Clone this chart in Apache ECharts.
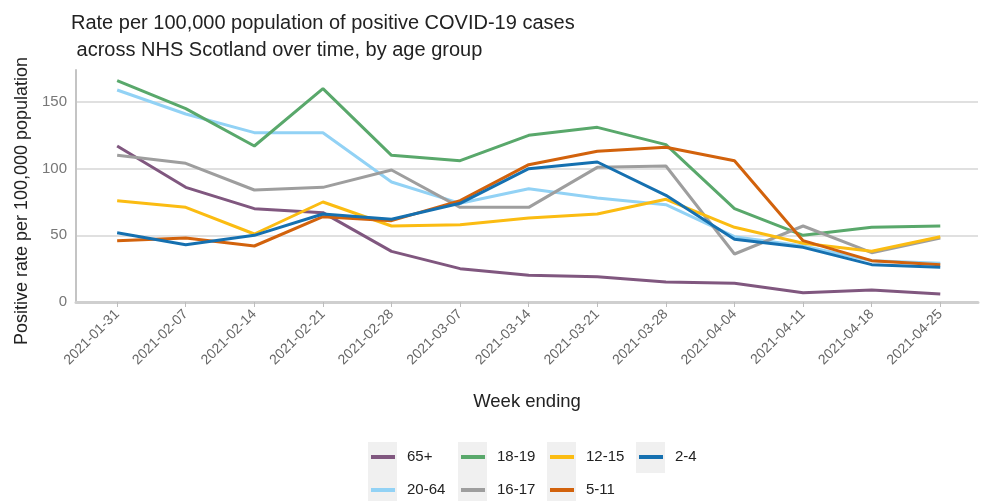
<!DOCTYPE html>
<html>
<head>
<meta charset="utf-8">
<script src="https://cdn.jsdelivr.net/npm/echarts@6/dist/echarts.min.js"></script>
<style>
html,body{margin:0;padding:0;background:#fff;}
#c{width:983px;height:501px;}
</style>
</head>
<body>
<div id="c"></div>
<script>
const weeks = ["2021-01-31","2021-02-07","2021-02-14","2021-02-21","2021-02-28","2021-03-07","2021-03-14","2021-03-21","2021-03-28","2021-04-04","2021-04-11","2021-04-18","2021-04-25"];
const age65plus = [117, 86, 70, 67, 38, 25, 20, 19, 15, 14, 7, 9, 6];
const age20to64 = [159, 141, 127, 127, 90, 74, 85, 78, 73, 49, 42, 31, 29];
const age18to19 = [166, 145, 117, 160, 110, 106, 125, 131, 118, 70, 50, 56, 57];
const age16to17 = [110, 104, 84, 86, 99, 71, 71, 101, 102, 36, 57, 37, 48];
const age12to15 = [76, 71, 51, 75, 57, 58, 63, 66, 77, 56, 44, 38, 49];
const age5to11 = [46, 48, 42, 64, 61, 76, 103, 113, 116, 106, 46, 31, 28];
const age2to4 = [52, 43, 50, 66, 62, 74, 100, 105, 80, 47, 41, 28, 26];
const yTicks = [0, 50, 100, 150];

const groups = [
  {name: "65+", data: age65plus, color: "#80577f"},
  {name: "20-64", data: age20to64, color: "#92d2f5"},
  {name: "18-19", data: age18to19, color: "#59a86b"},
  {name: "16-17", data: age16to17, color: "#9e9e9e"},
  {name: "12-15", data: age12to15, color: "#fbbc12"},
  {name: "5-11", data: age5to11, color: "#d2620c"},
  {name: "2-4", data: age2to4, color: "#1570b0"}
];
const tickIdx = weeks.map((w, i) => i);

const chart = echarts.init(document.getElementById('c'), null, {renderer: 'canvas'});
const legendCols = [["65+", "20-64"], ["18-19", "16-17"], ["12-15", "5-11"], ["2-4"]];
const legendLefts = [371, 461, 550, 639];
const keyRects = [[368, 442, 29, 59], [458, 442, 29, 59], [547, 442, 29, 59], [636, 442, 29, 31]];

chart.setOption({
  animation: false,
  backgroundColor: '#ffffff',
  title: {
    text: "Rate per 100,000 population of positive COVID-19 cases\n across NHS Scotland over time, by age group",
    left: 66, top: 5,
    textStyle: {fontFamily: 'Liberation Sans', fontSize: 20, fontWeight: 'normal', color: '#222', lineHeight: 27}
  },
  graphic: keyRects.map(r => ({type: 'rect', z: -1, shape: {x: r[0], y: r[1], width: r[2], height: r[3]}, style: {fill: '#f0f0f0'}})),
  legend: legendCols.map((col, k) => ({
    orient: 'vertical', left: legendLefts[k], top: 449, padding: 0,
    data: col, icon: 'rect', itemWidth: 24, itemHeight: 4, itemGap: 17,
    textStyle: {fontFamily: 'Liberation Sans', fontSize: 15, lineHeight: 16, color: '#222', padding: [0, 0, 0, 7]}
  })),
  grid: {left: 76, right: 5, top: 70, bottom: 199, containLabel: false, outerBoundsMode: 'none'},
  xAxis: {
    type: 'value', min: -0.6, max: 12.55,
    name: 'Week ending', nameLocation: 'middle', nameGap: 90,
    nameTextStyle: {fontFamily: 'Liberation Sans', fontSize: 18.5, color: '#222'},
    axisLine: {show: true, onZero: false, lineStyle: {color: '#cfcfcf', width: 3}},
    axisTick: {show: true, length: 5, lineStyle: {color: '#bdbdbd', width: 1}, customValues: tickIdx},
    axisLabel: {customValues: tickIdx, rotate: 45, color: '#666', fontFamily: 'Liberation Sans', fontSize: 14, margin: 10,
      formatter: v => weeks[Math.round(v)] || ''},
    splitLine: {show: false}
  },
  yAxis: {
    type: 'value', min: 0, max: 174,
    name: 'Positive rate per 100,000 population', nameLocation: 'middle', nameGap: 45,
    nameTextStyle: {fontFamily: 'Liberation Sans', fontSize: 18, color: '#222', padding: [0, 30, 0, 0]},
    axisLine: {show: true, onZero: false, lineStyle: {color: '#c4c4c4', width: 2}},
    axisTick: {show: false, customValues: yTicks},
    axisLabel: {customValues: yTicks, color: '#777', fontFamily: 'Liberation Sans', fontSize: 15, margin: 9},
    splitLine: {show: true, lineStyle: {color: '#d6d6d6', width: 1.6}}
  },
  series: groups.map(g => ({
    name: g.name, type: 'line', symbol: 'none',
    data: g.data.map((v, i) => [i, v]),
    itemStyle: {color: g.color},
    lineStyle: {color: g.color, width: 3}
  }))
});
</script>
</body>
</html>
